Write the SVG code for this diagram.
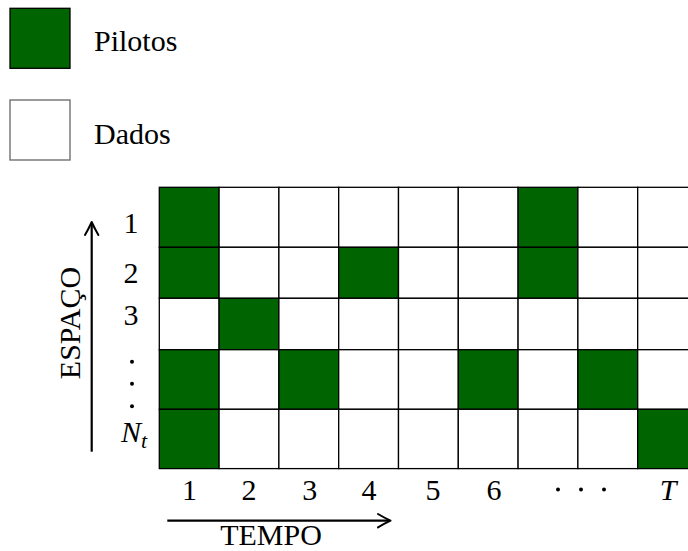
<svg xmlns="http://www.w3.org/2000/svg" width="688" height="551" viewBox="0 0 688 551">
<style>
text{font-family:"Liberation Serif","Times New Roman",serif;font-size:30px;fill:#000}
.it{font-style:italic}
.c{fill:#fff;stroke:#000;stroke-width:1.3}
.p{fill:#006400;stroke:#000;stroke-width:1.3}
.ax{fill:none;stroke:#000;stroke-width:2.2}
.hd{fill:none;stroke:#000;stroke-width:2;stroke-linecap:round;stroke-linejoin:round}
</style>
<rect width="688" height="551" fill="#fff"/>
<g id="legend-pilotos">
<rect x="10" y="8.3" width="60" height="60" class="p"/>
<text x="94" y="51">Pilotos</text>
</g>
<g id="legend-dados">
<rect x="10" y="100" width="60" height="60" fill="#fff" stroke="#666" stroke-width="1.3"/>
<text x="94" y="144">Dados</text>
</g>
<g id="grid">
<rect x="159.3" y="187.3" width="59.8" height="60" class="p"/>
<rect x="219.1" y="187.3" width="59.8" height="60" class="c"/>
<rect x="278.9" y="187.3" width="59.8" height="60" class="c"/>
<rect x="338.7" y="187.3" width="59.8" height="60" class="c"/>
<rect x="398.5" y="187.3" width="59.8" height="60" class="c"/>
<rect x="458.3" y="187.3" width="59.8" height="60" class="c"/>
<rect x="518.1" y="187.3" width="59.8" height="60" class="p"/>
<rect x="577.9" y="187.3" width="59.8" height="60" class="c"/>
<rect x="637.7" y="187.3" width="59.8" height="60" class="c"/>
<rect x="159.3" y="247.3" width="59.8" height="51" class="p"/>
<rect x="219.1" y="247.3" width="59.8" height="51" class="c"/>
<rect x="278.9" y="247.3" width="59.8" height="51" class="c"/>
<rect x="338.7" y="247.3" width="59.8" height="51" class="p"/>
<rect x="398.5" y="247.3" width="59.8" height="51" class="c"/>
<rect x="458.3" y="247.3" width="59.8" height="51" class="c"/>
<rect x="518.1" y="247.3" width="59.8" height="51" class="p"/>
<rect x="577.9" y="247.3" width="59.8" height="51" class="c"/>
<rect x="637.7" y="247.3" width="59.8" height="51" class="c"/>
<rect x="159.3" y="298.3" width="59.8" height="51.4" class="c"/>
<rect x="219.1" y="298.3" width="59.8" height="51.4" class="p"/>
<rect x="278.9" y="298.3" width="59.8" height="51.4" class="c"/>
<rect x="338.7" y="298.3" width="59.8" height="51.4" class="c"/>
<rect x="398.5" y="298.3" width="59.8" height="51.4" class="c"/>
<rect x="458.3" y="298.3" width="59.8" height="51.4" class="c"/>
<rect x="518.1" y="298.3" width="59.8" height="51.4" class="c"/>
<rect x="577.9" y="298.3" width="59.8" height="51.4" class="c"/>
<rect x="637.7" y="298.3" width="59.8" height="51.4" class="c"/>
<rect x="159.3" y="349.7" width="59.8" height="59.6" class="p"/>
<rect x="219.1" y="349.7" width="59.8" height="59.6" class="c"/>
<rect x="278.9" y="349.7" width="59.8" height="59.6" class="p"/>
<rect x="338.7" y="349.7" width="59.8" height="59.6" class="c"/>
<rect x="398.5" y="349.7" width="59.8" height="59.6" class="c"/>
<rect x="458.3" y="349.7" width="59.8" height="59.6" class="p"/>
<rect x="518.1" y="349.7" width="59.8" height="59.6" class="c"/>
<rect x="577.9" y="349.7" width="59.8" height="59.6" class="p"/>
<rect x="637.7" y="349.7" width="59.8" height="59.6" class="c"/>
<rect x="159.3" y="409.3" width="59.8" height="59.3" class="p"/>
<rect x="219.1" y="409.3" width="59.8" height="59.3" class="c"/>
<rect x="278.9" y="409.3" width="59.8" height="59.3" class="c"/>
<rect x="338.7" y="409.3" width="59.8" height="59.3" class="c"/>
<rect x="398.5" y="409.3" width="59.8" height="59.3" class="c"/>
<rect x="458.3" y="409.3" width="59.8" height="59.3" class="c"/>
<rect x="518.1" y="409.3" width="59.8" height="59.3" class="c"/>
<rect x="577.9" y="409.3" width="59.8" height="59.3" class="c"/>
<rect x="637.7" y="409.3" width="59.8" height="59.3" class="p"/>
</g>
<g id="row-labels" text-anchor="middle">
<text x="131" y="233">1</text>
<text x="131" y="283.3">2</text>
<text x="131" y="325">3</text>
<circle cx="132" cy="361.7" r="2"/>
<circle cx="132" cy="383.7" r="2"/>
<circle cx="132" cy="406.2" r="2"/>
<text x="121" y="441.7" text-anchor="start" class="it">N<tspan font-size="22" dy="6">t</tspan></text>
</g>
<g id="col-labels" text-anchor="middle">
<text x="189.5" y="500">1</text>
<text x="249" y="500">2</text>
<text x="309.7" y="500">3</text>
<text x="369" y="500">4</text>
<text x="433" y="500">5</text>
<text x="494" y="500">6</text>
<circle cx="558" cy="489.5" r="2"/>
<circle cx="581" cy="489.5" r="2"/>
<circle cx="604" cy="489.5" r="2"/>
<text x="668" y="500" class="it">T</text>
</g>
<g id="connectors">
<line x1="91.7" y1="451.7" x2="91.7" y2="223" class="ax"/>
<path d="M85,235 C88,230 90.5,224.5 91.7,222 C92.9,224.5 95.4,230 98.4,235" class="hd"/>
<line x1="167.3" y1="520.7" x2="389" y2="520.7" class="ax"/>
<path d="M378,514 C383,517 388,519.5 390.5,520.7 C388,521.9 383,524.4 378,527.4" class="hd"/>
</g>
<g id="axis-labels">
<text x="271" y="545" text-anchor="middle">TEMPO</text>
<text transform="translate(80,323) rotate(-90)" text-anchor="middle">ESPAÇO</text>
</g>
</svg>
